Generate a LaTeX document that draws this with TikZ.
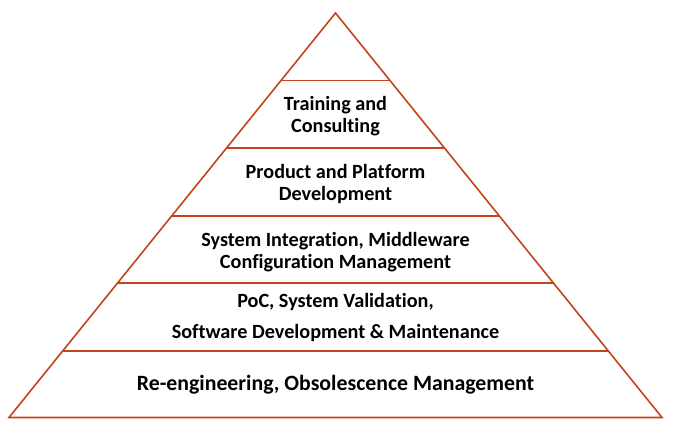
\documentclass[tikz,border=0pt]{standalone}
\usepackage{fontspec}
\setmainfont{Carlito}[Ligatures=NoCommon]
\definecolor{rim}{RGB}{193,68,28}
\begin{document}
\begin{tikzpicture}[x=1pt,y=-1pt,
  rimline/.style={draw=rim,line width=1.6pt,line join=miter},
  bandtext/.style={font=\bfseries\fontsize{20.2}{22}\selectfont,align=center,text=black,inner sep=0pt},
  basetext/.style={font=\bfseries\fontsize{21.8}{22}\selectfont,align=center,text=black,inner sep=0pt}]
\useasboundingbox (0,0) rectangle (675,427);
% outline of the pyramid
\coordinate (apex) at (335.5,13);
\coordinate (bl) at (9,417.5);
\coordinate (br) at (662,417.5);
\draw[rimline] (apex) -- (bl) -- (br) -- cycle;
% band dividers (edges meet the sides of the triangle)
\foreach \y [count=\i] in {80.5,148,216,283,351}{
  \pgfmathsetmacro{\dx}{(\y-13)/404.5*326.5}
  \coordinate (l\i) at ({335.5-\dx},\y);
  \coordinate (r\i) at ({335.5+\dx},\y);
  \draw[rimline] (l\i) -- (r\i);
}
% band labels
\node[bandtext] (t1) at (335.5,116) {Training and\\Consulting};
\node[bandtext] (t2) at (335.5,184) {Product and Platform\\Development};
\node[bandtext] (t3) at (335.5,252) {System Integration, Middleware\\Configuration Management};
\node[bandtext] (t4a) at (335.5,302) {PoC, System Validation,};
\node[bandtext] (t4b) at (335.5,333) {Software Development \& Maintenance};
\node[basetext] (t5) at (335.5,385) {Re-engineering, Obsolescence Management};
\end{tikzpicture}
\end{document}
